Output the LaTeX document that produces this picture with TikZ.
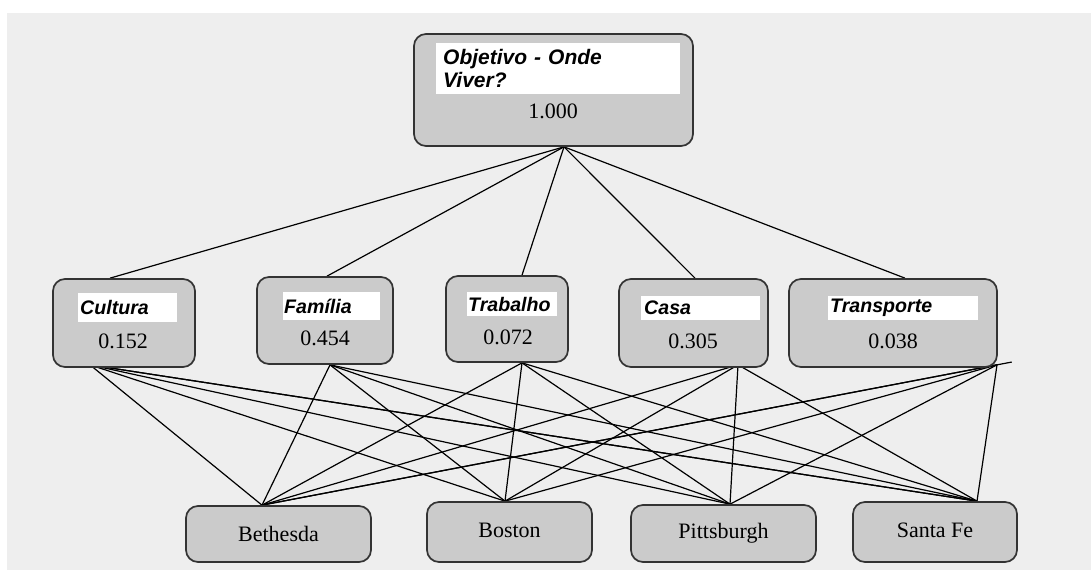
\documentclass[tikz,border=0pt]{standalone}
\usepackage{fontspec}
\setmainfont{Liberation Serif}
\newfontfamily\tagfamily{Liberation Sans}
\usetikzlibrary{calc,backgrounds}

\definecolor{paper}{HTML}{EEEEEE}
\definecolor{boxfill}{HTML}{CBCBCB}
\definecolor{boxedge}{HTML}{333333}

\begin{document}
\begin{tikzpicture}[x=1pt, y=-1pt,
  box/.style 2 args={draw=boxedge, line width=1.7pt, fill=boxfill,
    rounded corners=12pt, minimum width=#1, minimum height=#2, inner sep=0pt},
  tag/.style={fill=white, anchor=north west, inner ysep=0pt, align=left,
    font=\tagfamily\bfseries\itshape\fontsize{19.6}{22}\selectfont},
  val/.style={font=\fontsize{22}{24}\selectfont},
  city/.style={font=\fontsize{22}{24}\selectfont},
  link/.style={line width=1.2pt, black}
 ]
\useasboundingbox (0,0) rectangle (1091,570);

% GOAL
\node[box={279pt}{112pt}] (goal) at (553.5,90) {};
\node[tag, inner xsep=7pt, text width=230pt, minimum height=51pt,
  font=\tagfamily\bfseries\itshape\fontsize{21}{23}\selectfont]
  (goal-tag) at (436,43) {Objetivo - Onde\\Viver?};
\node[val] (goal-val) at (553,111) {1.000};

% CRITERIA
\node[box={142pt}{88pt}] (cultura) at (124,323) {};
\node[tag, inner xsep=2pt, text width=95pt, minimum height=29pt] (cultura-tag) at (78,293) {Cultura};
\node[val] (cultura-val) at (123,341) {0.152};

\node[box={136pt}{87pt}] (familia) at (325,320.5) {};
\node[tag, inner xsep=1pt, text width=95pt, minimum height=28pt] (familia-tag) at (283,292) {Família};
\node[val] (familia-val) at (325,338) {0.454};

\node[box={122pt}{86pt}] (trabalho) at (507,319) {};
\node[tag, inner xsep=1pt, text width=88pt, minimum height=24pt] (trabalho-tag) at (467,292) {Trabalho};
\node[val] (trabalho-val) at (508,337) {0.072};

\node[box={149pt}{88pt}] (casa) at (693.5,323) {};
\node[tag, inner xsep=3pt, text width=113pt, minimum height=24pt] (casa-tag) at (641,296) {Casa};
\node[val] (casa-val) at (693,341) {0.305};

\node[box={208pt}{88pt}] (transporte) at (893,323) {};
\node[tag, inner xsep=2pt, text width=146pt, minimum height=24pt] (transporte-tag) at (828,296) {Transporte};
\node[val] (transporte-val) at (893,341) {0.038};

% CITIES
\node[box={185pt}{56pt}, city] (bethesda) at (278.5,534) {Bethesda};
\node[box={165pt}{60pt}, city] (boston) at (509.5,532) {\raisebox{4pt}{Boston}};
\node[box={185pt}{57pt}, city] (pittsburgh) at (723.5,533.5) {Pittsburgh};
\node[box={164pt}{60pt}, city] (santafe) at (935,532) {\raisebox{4pt}{Santa Fe}};

% HUBS
\coordinate (goal-hub) at ($(goal.south)+(10.5,0)$);
\coordinate (cultura-top) at ($(cultura.north)+(-14,0)$);
\coordinate (familia-top) at ($(familia.north)+(2,0)$);
\coordinate (trabalho-top) at ($(trabalho.north)+(15,0)$);
\coordinate (casa-top) at ($(casa.north)+(1.5,0)$);
\coordinate (transporte-top) at ($(transporte.north)+(12,0)$);
\coordinate (cultura-low) at ($(cultura.south)+(-34,-3)$);
\coordinate (familia-low) at ($(familia.south)+(5,0)$);
\coordinate (trabalho-low) at ($(trabalho.south)+(15,0)$);
\coordinate (casa-low) at ($(casa.south)+(44.5,-3)$);
\coordinate (transporte-low) at ($(transporte.south)+(104,-3)$);
\coordinate (bethesda-hub) at ($(bethesda.north)+(-16.5,0)$);
\coordinate (boston-hub) at ($(boston.north)+(-4.5,0)$);
\coordinate (pittsburgh-hub) at ($(pittsburgh.north)+(6.5,0)$);
\coordinate (santafe-hub) at ($(santafe.north)+(42,0)$);

% ARROWS
\begin{scope}[on background layer]
\fill[white] (0,0) rectangle (1091,570);
\fill[paper] (7,13) rectangle (1091,570);

\foreach \c in {cultura,familia,trabalho,casa,transporte}
  \draw[link] (goal-hub) -- (\c-top);

\foreach \c in {cultura,familia,trabalho,casa,transporte}
  \foreach \d in {bethesda,boston,pittsburgh,santafe}
    \draw[link] (\c-low) -- (\d-hub);

\draw[link, shorten >=-15pt] (bethesda-hub) -- (transporte-low);
\draw[link, shorten >=-13pt] (santafe-hub) -- (cultura-low);
\end{scope}

\end{tikzpicture}
\end{document}
